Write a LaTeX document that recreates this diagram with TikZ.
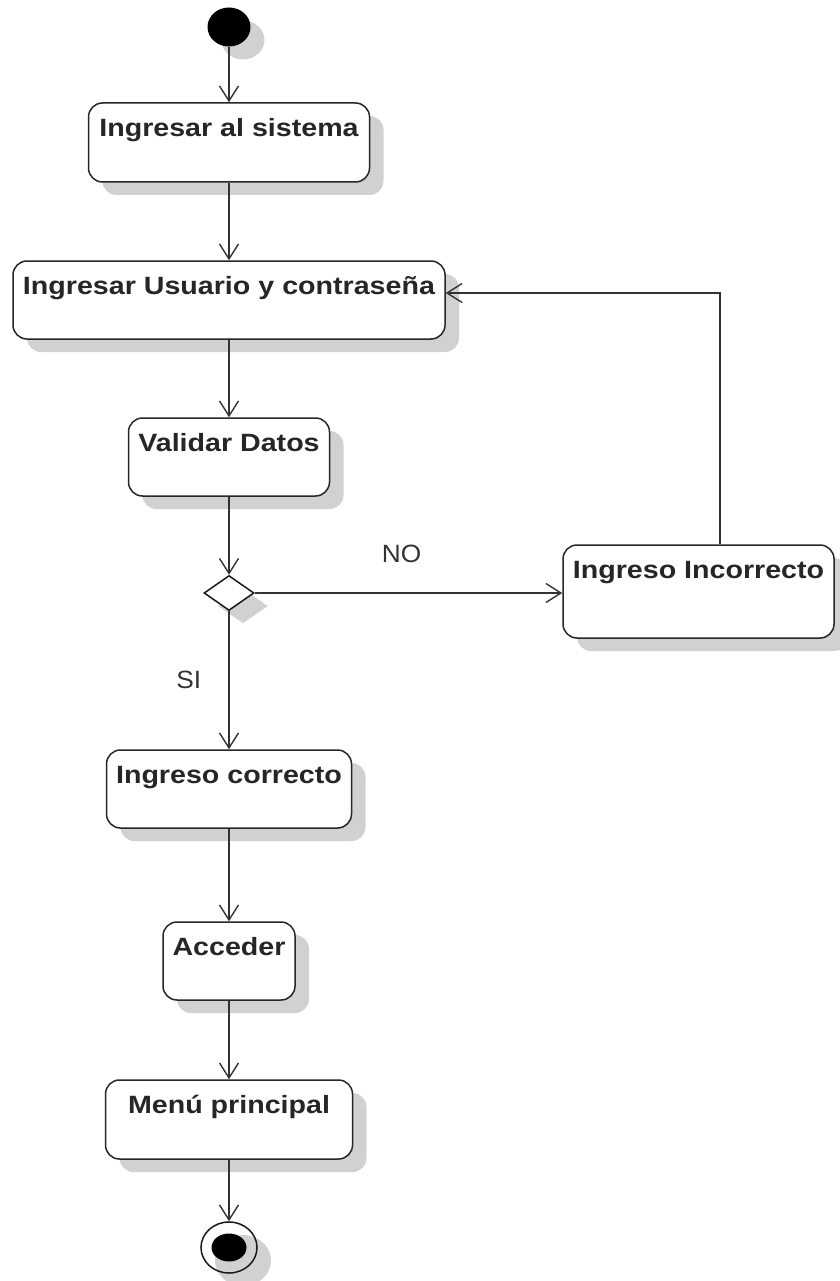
\documentclass[tikz,border=0pt]{standalone}
\usepackage{fontspec}
\setmainfont{Liberation Sans}
\newfontfamily\boxfont[FakeStretch=1.145]{Liberation Sans Bold}
\newfontfamily\lblfont[FakeStretch=1.05]{Liberation Sans}
\usetikzlibrary{arrows.meta,shapes.geometric,shadows}

\tikzset{
  shade/.style={drop shadow={shadow xshift=14pt,shadow yshift=-13pt,fill=black!18,opacity=1}},
  act/.style 2 args={draw=black!85, line width=1.5pt, rounded corners=14pt, fill=white, shade,
    inner sep=0pt, minimum width=#1, text height=33.5pt, text depth=#2,
    font=\boxfont\fontsize{25}{30}\selectfont, text=black!85},
  startnode/.style={ellipse, fill=black, inner sep=0pt, minimum width=43pt, minimum height=39pt, shade},
  endring/.style={ellipse, draw=black!90, line width=1.5pt, inner sep=0pt, minimum width=56pt, minimum height=51pt, shade},
  endcore/.style={ellipse, fill=black, inner sep=0pt, minimum width=35pt, minimum height=28pt},
  decision/.style={diamond, draw=black!90, line width=1.5pt, fill=white, inner sep=0pt, minimum width=50pt, minimum height=35pt, shade},
  flow/.style={draw=black!80, line width=1.4pt, -{Straight Barb[length=15pt,width=19pt]}},
  lbl/.style={font=\lblfont\fontsize{25}{30}\selectfont, text=black!80, inner sep=0pt}
}

\begin{document}
\begin{tikzpicture}[x=1pt,y=-1pt]
\useasboundingbox (0,0) rectangle (839,1281);

% activity nodes
\node[startnode] (start) at (229,27) {};
\node[act={281pt}{45.5pt}] (sys) at (229,142.5) {Ingresar al sistema};
\node[act={432pt}{44.5pt}] (user) at (229,300) {Ingresar Usuario y contraseña};
\node[act={201pt}{44.5pt}] (val) at (229,457) {Validar Datos};
\node[decision] (dec) at (229,593) {};
\node[act={271pt}{59.5pt}] (bad) at (698.5,591.5) {Ingreso Incorrecto};
\node[act={245pt}{44.5pt}] (ok) at (229,789) {Ingreso correcto};
\node[act={132pt}{44.5pt}] (acc) at (229,961) {Acceder};
\node[act={247pt}{45.5pt}] (menu) at (229,1119.5) {Menú principal};
\node[endring] (stop) at (229,1247.5) {};
\node[endcore] (stopcore) at (stop) {};

% guard labels
\node[lbl, anchor=base] (no) at (401.5,562.3) {NO};
\node[lbl, anchor=base] (si) at (188.7,688) {SI};

% control flow
\draw[flow] (start) -- (sys);
\draw[flow] (sys) -- (user);
\draw[flow] (user) -- (val);
\draw[flow] (val) -- (dec);
\draw[flow] (dec.east) -- (dec.east -| bad.west);
\draw[flow] (dec) -- (ok);
\draw[flow] (ok) -- (acc);
\draw[flow] (acc) -- (menu);
\draw[flow] (menu) -- (stop);

% retry loop back to the login step
\coordinate (turn) at (720,293);
\draw[flow] (bad.north -| turn) -- (turn) -- (turn -| user.east);
\end{tikzpicture}
\end{document}
